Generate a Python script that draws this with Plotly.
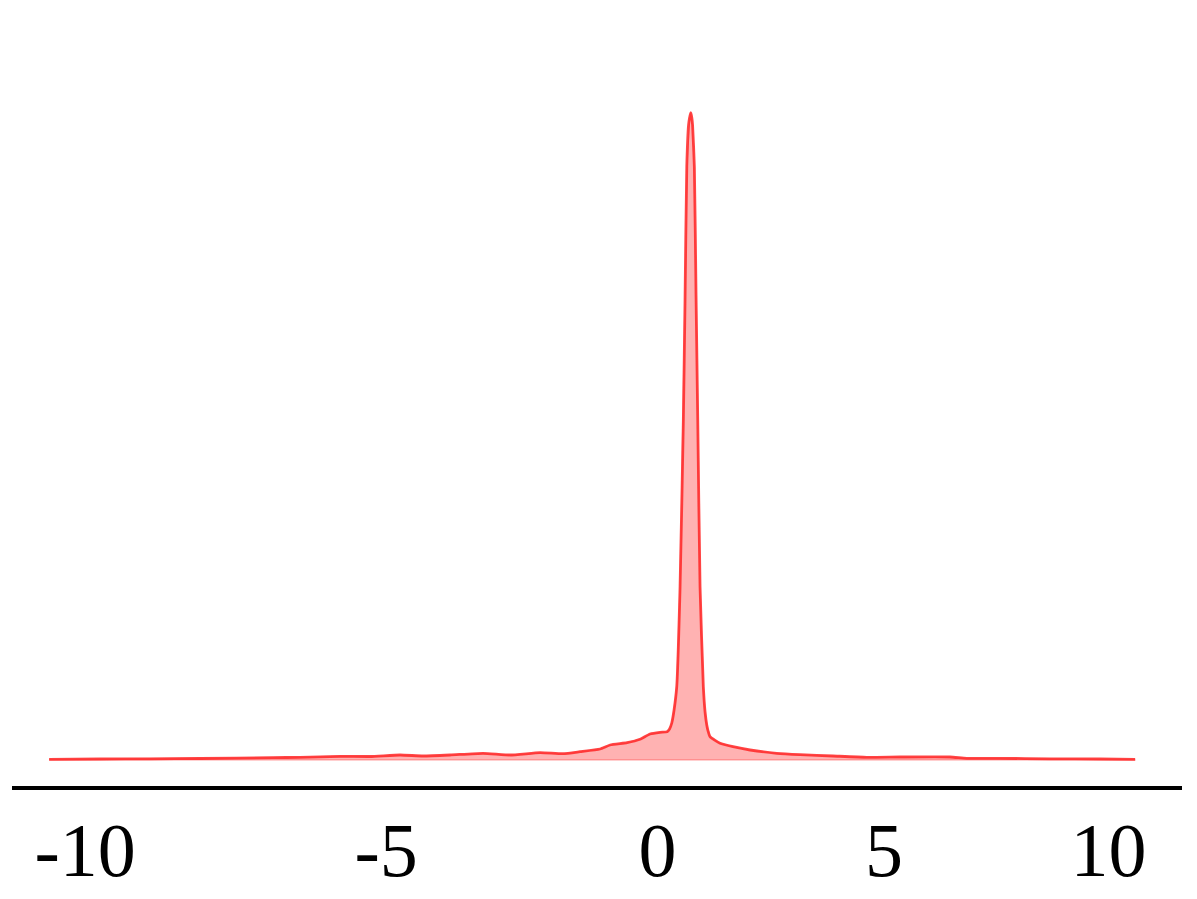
import plotly.graph_objects as go

# Density curve (x in axis units, y density)
x_vals = [-10.702, -9.707, -8.732, -7.756, -6.332, -5.805, -5.024, -4.439, -3.854, -3.405,
          -2.878, -2.234, -1.707, -1.122, -0.673, -0.341, 0.049, 0.244, 0.576, 0.829,
          1.024, 1.220, 1.356, 1.405, 1.448, 1.493, 1.545, 1.610, 1.674, 1.707,
          1.741, 1.776, 1.795, 1.819, 1.840, 1.854, 1.889, 1.922, 1.955, 2.000,
          2.064, 2.098, 2.131, 2.156, 2.195, 2.390, 2.644, 2.976, 3.497, 3.951,
          4.595, 5.253, 5.902, 6.878, 7.204, 7.854, 8.829, 9.805, 10.488]
y_vals = [0.0007, 0.0010, 0.0012, 0.0015, 0.0023, 0.0027, 0.0037, 0.0035, 0.0050, 0.0040,
          0.0050, 0.0067, 0.0050, 0.0073, 0.0063, 0.0083, 0.0110, 0.0150, 0.0173, 0.0207,
          0.0260, 0.0277, 0.0283, 0.0310, 0.0370, 0.0500, 0.0733, 0.1733, 0.3400, 0.4600,
          0.5933, 0.6350, 0.6420, 0.6473, 0.6420, 0.6350, 0.5933, 0.4640, 0.3400, 0.1733,
          0.0733, 0.0480, 0.0350, 0.0290, 0.0233, 0.0167, 0.0133, 0.0100, 0.0067, 0.0053,
          0.0040, 0.0027, 0.0030, 0.0030, 0.0017, 0.0017, 0.0012, 0.0010, 0.0007]

tick_positions = [-10.0, -4.127, 1.171, 5.590, 9.971]
tick_labels = ["-10", "-5", "0", "5", "10"]

fig = go.Figure()
# filled area with faint edge (incl. baseline)
fig.add_trace(go.Scatter(
    x=x_vals + [x_vals[-1], x_vals[0]],
    y=y_vals + [0, 0],
    mode="lines", fill="toself", fillcolor="rgba(255,0,0,0.3)",
    line=dict(color="rgba(255,0,0,0.25)", width=1.5),
    hoverinfo="skip", showlegend=False))
# curve line
fig.add_trace(go.Scatter(
    x=x_vals, y=y_vals, mode="lines", line_shape="spline",
    line=dict(color="rgba(255,40,40,0.85)", width=2.8, smoothing=0.5),
    showlegend=False))

fig.update_layout(
    width=1189, height=891,
    margin=dict(l=4, r=15, t=32, b=113),
    paper_bgcolor="white", plot_bgcolor="white",
    font=dict(family="Liberation Serif", size=76, color="black"),
    xaxis=dict(range=[-11.427, 11.405], showgrid=False, zeroline=False,
               showline=True, linecolor="black", linewidth=4,
               tickmode="array", tickvals=tick_positions, ticktext=tick_labels,
               ticks="", ticklabelstandoff=-5,
               tickfont=dict(family="Liberation Serif", size=76, color="black"),
               automargin=False),
    yaxis=dict(range=[-0.026, 0.72], visible=False, showgrid=False, zeroline=False),
)

fig.write_html("out.html")
